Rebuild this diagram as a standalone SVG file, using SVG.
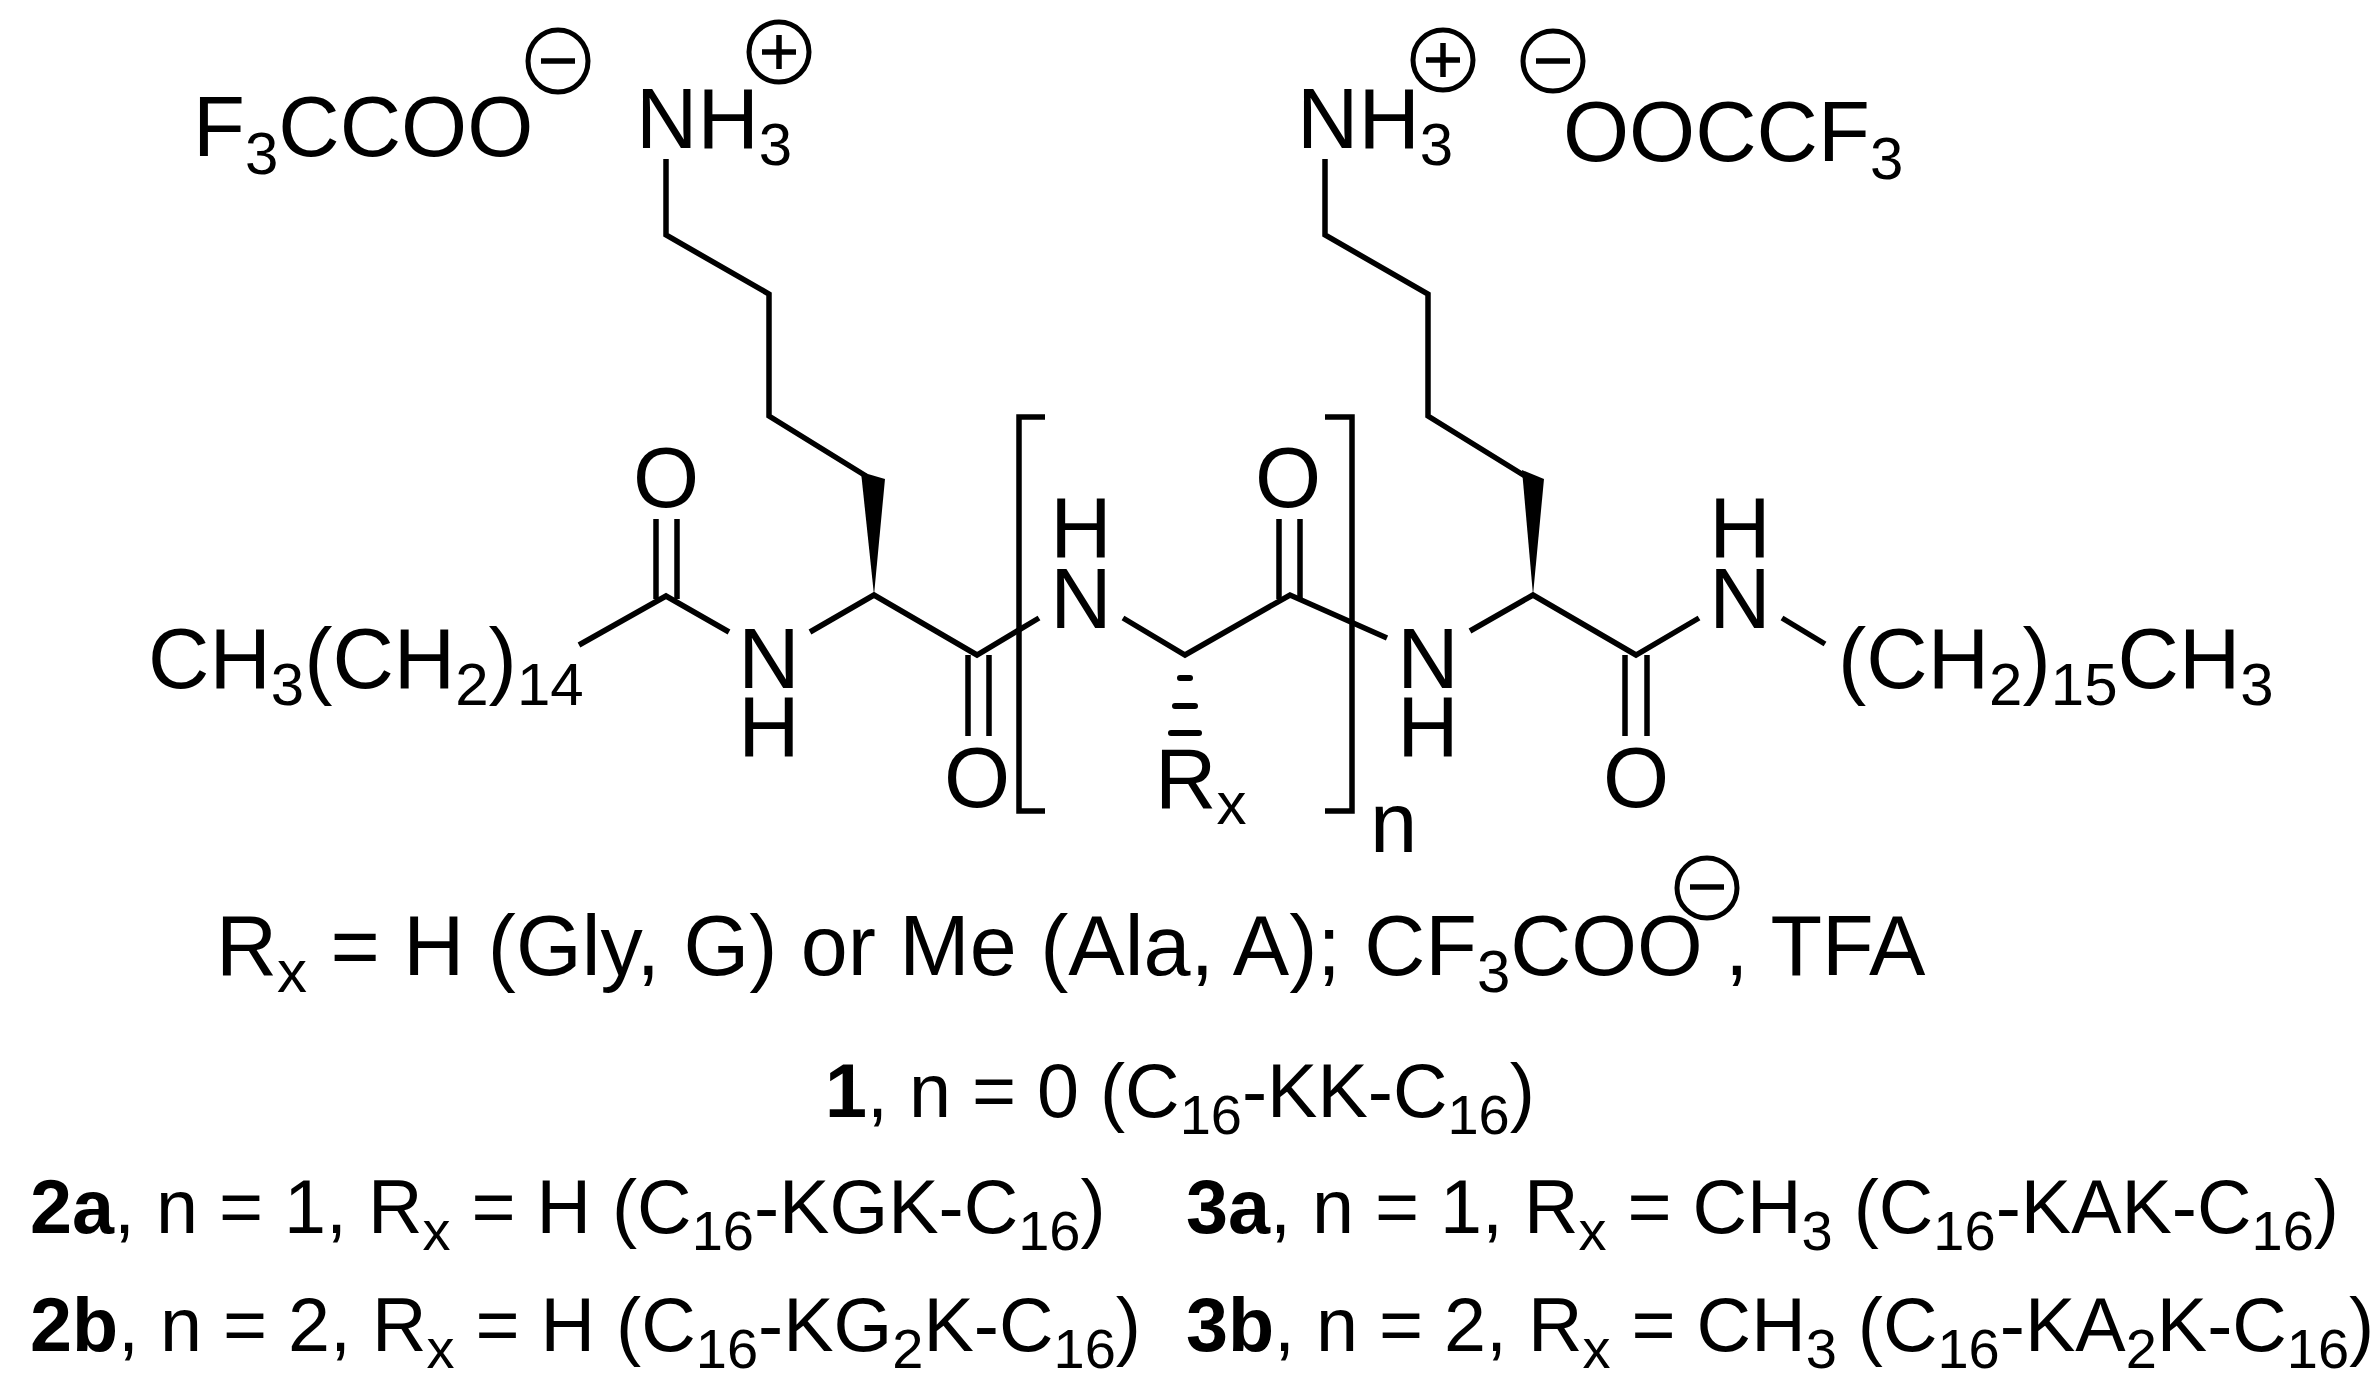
<svg xmlns="http://www.w3.org/2000/svg" width="2374" height="1396" viewBox="0 0 2374 1396">
<style>
text{font-family:"Liberation Sans",Arial,sans-serif;font-size:85px;fill:#000}
.c{text-anchor:middle}
.m{font-size:84.5px}
.l{font-size:75.5px}
.b{font-weight:bold}
.s{font-size:60px}
.t{font-size:56px}
.bond{fill:none;stroke:#000;stroke-width:5.5;stroke-linejoin:miter}
.ring{fill:none;stroke:#000;stroke-width:5}
</style>
<rect width="2374" height="1396" fill="#fff"/>
<g id="connectors" class="bond">
<path d="M666 159V235L769 294V416L866 476"/>
<path d="M579 645L666 596L729 632"/>
<path d="M656 519V599M677 519V599"/>
<path d="M810 632L874 595L977 655L1039 618"/>
<path d="M968 655V736M989 655V736"/>
<path d="M1123 618L1185 655L1290 595L1387 638"/>
<path d="M1279 519V599M1300 519V599"/>
<path d="M1325 159V235L1428 294V416L1525 476"/>
<path d="M1470 631L1533 595L1636 655L1699 618"/>
<path d="M1625 655V736M1647 655V736"/>
<path d="M1782 618L1825 644"/>
<path d="M1045 417H1019V811H1045"/>
<path d="M1325 417H1352V811H1325"/>
<polygon points="861,472 885,479 874,595" fill="#000" stroke="none"/>
<polygon points="1522,470 1544,479 1533,595" fill="#000" stroke="none"/>
<path d="M1180 678H1190M1175 706H1195M1171 733H1199" stroke-width="6" stroke-linecap="round"/>
</g>
<g id="tfa-left"><text x="193" y="156">F<tspan class="s" dy="18">3</tspan><tspan dy="-18">CCOO</tspan></text><ellipse class="ring" cx="558" cy="61" rx="30" ry="31"/><path class="bond" d="M541 61H575"/></g>
<g id="nh3-left"><text x="636" y="148">NH<tspan class="s" dy="17">3</tspan></text><ellipse class="ring" cx="779" cy="52" rx="30" ry="30"/><path class="bond" d="M762 52H796M779 35V69"/></g>
<g id="nh3-right"><text x="1297" y="148">NH<tspan class="s" dy="17">3</tspan></text><ellipse class="ring" cx="1443" cy="60" rx="30" ry="30"/><path class="bond" d="M1426 60H1460M1443 43V77"/></g>
<g id="tfa-right"><text x="1563" y="161">OOCCF<tspan class="s" dy="18">3</tspan></text><ellipse class="ring" cx="1553" cy="61" rx="30" ry="30"/><path class="bond" d="M1536 61H1570"/></g>
<g id="chain-left"><text x="148" y="688">CH<tspan class="s" dy="17">3</tspan><tspan dy="-17">(CH</tspan><tspan class="s" dy="17">2</tspan><tspan dy="-17">)</tspan><tspan class="s" dy="17">14</tspan></text></g>
<g id="o1"><text class="c" x="666" y="507">O</text></g>
<g id="nh1"><text class="c" x="769" y="688">N</text><text class="c" x="769" y="756">H</text></g>
<g id="o2"><text class="c" x="977" y="807">O</text></g>
<g id="nh2"><text class="c" x="1081" y="557">H</text><text class="c" x="1081" y="628">N</text></g>
<g id="rx"><text x="1155" y="808">R<tspan class="s" dy="16">x</tspan></text></g>
<g id="o3"><text class="c" x="1288" y="507">O</text></g>
<g id="n-sub"><text x="1370" y="852">n</text></g>
<g id="nh3"><text class="c" x="1428" y="688">N</text><text class="c" x="1428" y="756">H</text></g>
<g id="o4"><text class="c" x="1636" y="807">O</text></g>
<g id="nh4"><text class="c" x="1740" y="557">H</text><text class="c" x="1740" y="628">N</text></g>
<g id="chain-right"><text x="1838" y="688">(CH<tspan class="s" dy="17">2</tspan><tspan dy="-17">)</tspan><tspan class="s" dy="17">15</tspan><tspan dy="-17">CH</tspan><tspan class="s" dy="17">3</tspan></text></g>
<g id="legend">
<text class="m" x="216" y="975">R<tspan class="s" dy="17">x</tspan><tspan dy="-17"> = H (Gly, G) or Me (Ala, A); CF</tspan><tspan class="s" dy="17">3</tspan><tspan dy="-17">COO</tspan></text>
<text class="m" x="1725" y="975">, TFA</text>
<ellipse class="ring" cx="1707" cy="888" rx="30" ry="30"/><path class="bond" d="M1690 887H1724"/>
<text class="l" x="825" y="1117"><tspan class="b">1</tspan>, n = 0 (C<tspan class="t" dy="17">16</tspan><tspan dy="-17">-KK-C</tspan><tspan class="t" dy="17">16</tspan><tspan dy="-17">)</tspan></text>
<text class="l" x="30" y="1233"><tspan class="b">2a</tspan>, n = 1, R<tspan class="t" dy="17">x</tspan><tspan dy="-17"> = H (C</tspan><tspan class="t" dy="17">16</tspan><tspan dy="-17">-KGK-C</tspan><tspan class="t" dy="17">16</tspan><tspan dy="-17">)</tspan></text>
<text class="l" x="1186" y="1233"><tspan class="b">3a</tspan>, n = 1, R<tspan class="t" dy="17">x</tspan><tspan dy="-17"> = CH</tspan><tspan class="t" dy="17">3</tspan><tspan dy="-17"> (C</tspan><tspan class="t" dy="17">16</tspan><tspan dy="-17">-KAK-C</tspan><tspan class="t" dy="17">16</tspan><tspan dy="-17">)</tspan></text>
<text class="l" x="30" y="1351"><tspan class="b">2b</tspan>, n = 2, R<tspan class="t" dy="17">x</tspan><tspan dy="-17"> = H (C</tspan><tspan class="t" dy="17">16</tspan><tspan dy="-17">-KG</tspan><tspan class="t" dy="17">2</tspan><tspan dy="-17">K-C</tspan><tspan class="t" dy="17">16</tspan><tspan dy="-17">)</tspan></text>
<text class="l" x="1186" y="1351"><tspan class="b">3b</tspan>, n = 2, R<tspan class="t" dy="17">x</tspan><tspan dy="-17"> = CH</tspan><tspan class="t" dy="17">3</tspan><tspan dy="-17"> (C</tspan><tspan class="t" dy="17">16</tspan><tspan dy="-17">-KA</tspan><tspan class="t" dy="17">2</tspan><tspan dy="-17">K-C</tspan><tspan class="t" dy="17">16</tspan><tspan dy="-17">)</tspan></text>
</g>
</svg>
